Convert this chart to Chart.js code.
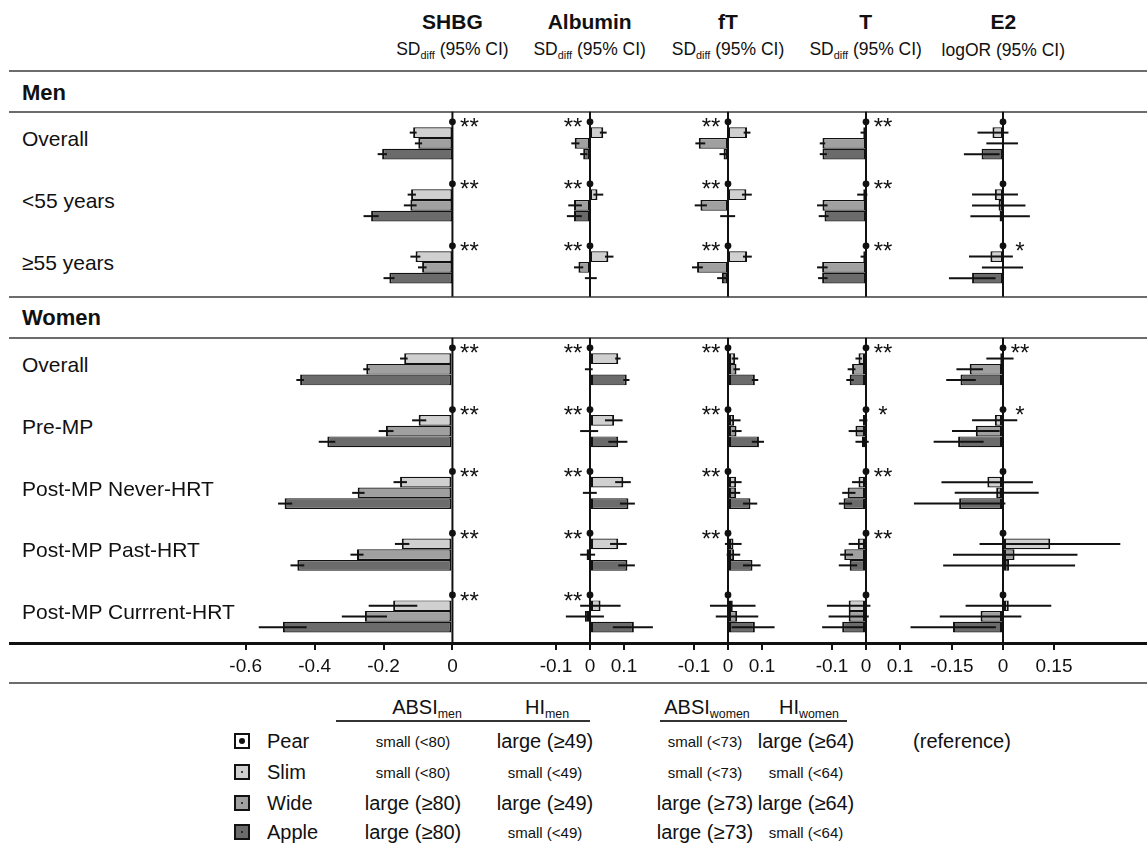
<!DOCTYPE html>
<html>
<head>
<meta charset="utf-8">
<script src="https://cdn.jsdelivr.net/npm/chart.js@4.4.1/dist/chart.umd.min.js"></script>
<style>
  body{margin:0;background:#fff;font-family:"Liberation Sans",Arial,sans-serif;color:#111;}
  #page{position:relative;width:1147px;height:843px;overflow:hidden;background:#fff;}
  .t{position:absolute;white-space:nowrap;line-height:1;}
  .hl{position:absolute;left:9px;right:0;height:2px;background:#6c6c6c;}
  canvas{position:absolute;}
  .sub{font-size:0.62em;vertical-align:-0.32em;}
  .sq{position:absolute;width:12px;height:12px;border:2px solid #111;}
  .sq i{position:absolute;left:4px;top:4px;width:4px;height:4px;border-radius:50%;background:#111;}
</style>
</head>
<body>
<div id="page"></div>
<script>
/* forest plot: waist/hip body shapes vs hormones */
const menGroups   = ['Overall', '<55 years', '≥55 years'];
const womenGroups = ['Overall', 'Pre-MP', 'Post-MP Never-HRT', 'Post-MP Past-HRT', 'Post-MP Currrent-HRT'];
const shapes = ['Pear', 'Slim', 'Wide', 'Apple'];

// rows: men Overall, <55, >=55, women Overall, Pre-MP, Never, Past, Current
// each row = [estimate, lower CI, upper CI]; Pear is the reference (0)
const shbgSlim  = [[-0.114,-0.124,-0.104],[-0.120,-0.130,-0.106],[-0.107,-0.122,-0.093],[-0.140,-0.152,-0.130],[-0.098,-0.117,-0.076],[-0.152,-0.171,-0.132],[-0.147,-0.167,-0.125],[-0.172,-0.243,-0.102]];
const shbgWide  = [[-0.099,-0.109,-0.088],[-0.122,-0.141,-0.104],[-0.088,-0.100,-0.075],[-0.250,-0.259,-0.240],[-0.193,-0.214,-0.171],[-0.275,-0.291,-0.255],[-0.277,-0.296,-0.258],[-0.254,-0.321,-0.190]];
const shbgApple = [[-0.204,-0.217,-0.190],[-0.236,-0.258,-0.214],[-0.183,-0.200,-0.168],[-0.442,-0.453,-0.431],[-0.363,-0.388,-0.340],[-0.487,-0.506,-0.465],[-0.450,-0.470,-0.430],[-0.492,-0.562,-0.423]];

const albSlim  = [[0.039,0.029,0.049],[0.022,0.010,0.039],[0.054,0.044,0.069],[0.083,0.074,0.090],[0.071,0.044,0.096],[0.098,0.074,0.120],[0.083,0.059,0.108],[0.031,-0.029,0.090]];
const albWide  = [[-0.045,-0.055,-0.031],[-0.047,-0.064,-0.024],[-0.034,-0.047,-0.020],[-0.003,-0.015,0.008],[-0.002,-0.029,0.024],[-0.003,-0.021,0.020],[-0.010,-0.029,0.015],[-0.015,-0.071,0.041]];
const albApple = [[-0.020,-0.029,-0.008],[-0.047,-0.068,-0.024],[-0.002,-0.015,0.020],[0.108,0.098,0.116],[0.083,0.054,0.110],[0.113,0.088,0.132],[0.110,0.083,0.132],[0.129,0.067,0.185]];

const ftSlim  = [[0.056,0.046,0.066],[0.054,0.041,0.070],[0.056,0.044,0.070],[0.021,0.011,0.030],[0.018,0.006,0.037],[0.024,0.006,0.040],[0.016,-0.009,0.040],[0.014,-0.053,0.081]];
const ftWide  = [[-0.086,-0.096,-0.067],[-0.081,-0.098,-0.062],[-0.091,-0.106,-0.074],[0.025,0.016,0.035],[0.025,0.011,0.040],[0.024,0.006,0.036],[0.018,-0.004,0.036],[0.027,-0.036,0.089]];
const ftApple = [[-0.013,-0.025,-0.001],[-0.001,-0.023,0.021],[-0.018,-0.032,-0.003],[0.079,0.070,0.089],[0.091,0.070,0.106],[0.066,0.044,0.086],[0.072,0.044,0.096],[0.079,0.011,0.137]];

const tSlim  = [[-0.008,-0.016,0.000],[-0.008,-0.026,0.004],[-0.008,-0.016,0.000],[-0.022,-0.031,-0.012],[-0.009,-0.020,0.004],[-0.022,-0.041,-0.002],[-0.024,-0.051,-0.002],[-0.051,-0.115,0.013]];
const tWide  = [[-0.128,-0.136,-0.120],[-0.128,-0.144,-0.113],[-0.129,-0.144,-0.113],[-0.041,-0.054,-0.031],[-0.031,-0.051,-0.007],[-0.054,-0.070,-0.031],[-0.064,-0.076,-0.038],[-0.051,-0.110,0.008]];
const tApple = [[-0.128,-0.136,-0.115],[-0.122,-0.139,-0.110],[-0.129,-0.141,-0.113],[-0.048,-0.058,-0.036],[-0.012,-0.031,0.008],[-0.066,-0.080,-0.041],[-0.048,-0.080,-0.026],[-0.070,-0.129,-0.005]];

const e2Slim  = [[-0.031,-0.075,0.016],[-0.024,-0.091,0.044],[-0.037,-0.100,0.029],[-0.008,-0.049,0.031],[-0.024,-0.091,0.042],[-0.046,-0.181,0.088],[0.139,-0.069,0.345],[0.017,-0.110,0.142]];
const e2Wide  = [[-0.003,-0.049,0.044],[-0.013,-0.091,0.066],[-0.002,-0.062,0.059],[-0.098,-0.137,-0.059],[-0.080,-0.150,-0.010],[-0.020,-0.142,0.105],[0.034,-0.147,0.219],[-0.066,-0.186,0.054]];
const e2Apple = [[-0.063,-0.115,-0.010],[-0.010,-0.096,0.079],[-0.091,-0.159,-0.022],[-0.125,-0.167,-0.080],[-0.132,-0.204,-0.057],[-0.129,-0.262,0.007],[0.018,-0.176,0.212],[-0.147,-0.272,-0.021]];

const shbgStars = ['**','**','**','**','**','**','**','**'];
const albStars  = ['**','**','**','**','**','**','**','**'];
const ftStars   = ['**','**','**','**','**','**','**',''];
const tStars    = ['**','**','**','**','*','**','**',''];
const e2Stars   = ['','','*','**','*','','',''];

const shbgTicks = [-0.6, -0.4, -0.2, 0];
const smallTicks = [-0.1, 0, 0.1];
const e2Ticks = [-0.15, 0, 0.15];

const colors = ['#ffffff', '#d0d0d0', '#a0a0a0', '#6b6b6b'];

const panels = [
  {title:'SHBG',    sub:'SD<span class="sub">diff</span> (95% CI)', left:194,   width:286, min:-0.75, max:0.08, ticks:shbgTicks,  rows:[shbgSlim,shbgWide,shbgApple], stars:shbgStars, side:1},
  {title:'Albumin', sub:'SD<span class="sub">diff</span> (95% CI)', left:521.7, width:136, min:-0.2,  max:0.2,  ticks:smallTicks, rows:[albSlim,albWide,albApple],    stars:albStars,  side:-1},
  {title:'fT',      sub:'SD<span class="sub">diff</span> (95% CI)', left:660,   width:136, min:-0.2,  max:0.2,  ticks:smallTicks, rows:[ftSlim,ftWide,ftApple],       stars:ftStars,   side:-1},
  {title:'T',       sub:'SD<span class="sub">diff</span> (95% CI)', left:797.7, width:136, min:-0.2,  max:0.2,  ticks:smallTicks, rows:[tSlim,tWide,tApple],          stars:tStars,    side:1},
  {title:'E2',      sub:'logOR (95% CI)',                           left:901.3, width:238, min:-0.3,  max:0.4,  ticks:e2Ticks,    rows:[e2Slim,e2Wide,e2Apple],       stars:e2Stars,   side:1}
];

const page = document.getElementById('page');
Chart.defaults.font.family = '"Liberation Sans", Arial, sans-serif';

function txt(html, x, y, css, center){
  const d = document.createElement('div');
  d.className = 't';
  d.innerHTML = html;
  d.style.cssText = css || '';
  d.style.left = x + 'px';
  d.style.top = y + 'px';
  d.style.transform = center ? 'translate(-50%,-50%)' : 'translate(0,-50%)';
  page.appendChild(d);
  return d;
}
function hline(y, h, col){
  const d = document.createElement('div');
  d.className = 'hl';
  d.style.top = y + 'px';
  if(h) d.style.height = h + 'px';
  if(col) d.style.background = col;
  page.appendChild(d);
}

// zero line, CI whiskers, reference dots and significance stars
const forest = {
  id: 'forest',
  beforeDatasetsDraw(chart, args, o){
    const {ctx, chartArea} = chart;
    const x = chart.scales.x.getPixelForValue(0);
    ctx.save();
    ctx.strokeStyle = '#111'; ctx.lineWidth = 2;
    ctx.beginPath();
    ctx.moveTo(x, o.zeroTop);
    ctx.lineTo(x, o.zeroBottom != null ? o.zeroBottom : chartArea.bottom);
    ctx.stroke();
    ctx.restore();
  },
  afterDatasetsDraw(chart, args, o){
    const ctx = chart.ctx, xs = chart.scales.x;
    ctx.save();
    ctx.strokeStyle = '#111'; ctx.lineWidth = 2;
    o.ci.forEach((rows, k)=>{
      const meta = chart.getDatasetMeta(k + 1);
      rows.forEach((r, i)=>{
        const y = meta.data[i].y;
        ctx.beginPath();
        ctx.moveTo(xs.getPixelForValue(r[1]), y);
        ctx.lineTo(xs.getPixelForValue(r[2]), y);
        ctx.stroke();
      });
    });
    const pear = chart.getDatasetMeta(0);
    ctx.fillStyle = '#111';
    ctx.font = '24px "Liberation Sans", Arial, sans-serif';
    ctx.textAlign = 'center';
    pear.data.forEach((b, i)=>{
      ctx.beginPath(); ctx.arc(b.x, b.y, 3.4, 0, Math.PI*2); ctx.fill();
      const s = o.stars[i];
      if(s) ctx.fillText(s, b.x + o.side*17, b.y + 13.5);
    });
    ctx.restore();
  }
};

function makeChart(p, groups, from, top, height, withAxis){
  const cv = document.createElement('canvas');
  cv.width = Math.round(p.width); cv.height = height;
  cv.style.left = p.left + 'px'; cv.style.top = top + 'px';
  cv.style.width = Math.round(p.width) + 'px'; cv.style.height = height + 'px';
  page.appendChild(cv);
  const to = from + groups.length;
  const rows = p.rows.map(a => a.slice(from, to));
  const datasets = shapes.map((name, k)=>({
    label: name,
    data: k === 0 ? groups.map(()=>0) : rows[k-1].map(r => r[0]),
    backgroundColor: colors[k],
    borderColor: '#111',
    borderWidth: k === 0 ? 0 : {top:1.2, bottom:1.2, left:2, right:2},
    borderSkipped: false,
    categoryPercentage: 0.694,
    barPercentage: 1
  }));
  const x = {
    type:'linear', min:p.min, max:p.max, display: withAxis,
    afterBuildTicks: s => { s.ticks = p.ticks.map(v => ({value:v})); },
    grid:{display:true, drawOnChartArea:false, drawTicks:true, tickLength:8, color:'#111', lineWidth:2},
    border:{display:false},
    ticks:{color:'#111', font:{size:19}, padding:5, maxRotation:0, autoSkip:false, callback: v => String(v)}
  };
  if(withAxis) x.afterFit = s => { s.height = 40; };
  return new Chart(cv, {
    type:'bar',
    data:{labels: groups, datasets},
    options:{
      indexAxis:'y', responsive:false, animation:false, devicePixelRatio:1,
      layout:{padding:{top:0, left:0, right:0, bottom: withAxis ? 0 : 5}},
      plugins:{
        legend:{display:false}, tooltip:{enabled:false},
        forest:{ci: rows, stars: p.stars.slice(from, to), side: p.side,
                zeroTop: 4.7, zeroBottom: withAxis ? null : height - 1.3}
      },
      scales:{ x, y:{display:false} }
    },
    plugins:[forest]
  });
}

// section lines
hline(70); hline(111); hline(296); hline(337);
hline(642, 3, '#111');
hline(682);

// panels
panels.forEach(p=>{
  const zx = p.left + (0 - p.min) / (p.max - p.min) * Math.round(p.width);
  txt(p.title, zx, 21, 'font-weight:bold;font-size:21px;', true);
  txt(p.sub, zx, 51, 'font-size:17.5px;', true);
  makeChart(p, menGroups, 0, 107, 191, false);
  makeChart(p, womenGroups, 3, 333, 349, true);
});

// row labels
txt('Men', 22, 93, 'font-weight:bold;font-size:22px;');
txt('Women', 22, 318, 'font-weight:bold;font-size:22px;');
menGroups.forEach((g, i)=> txt(g, 22, 107 + (i + 0.5) * 62, 'font-size:21px;'));
womenGroups.forEach((g, i)=> txt(g, 22, 333 + (i + 0.5) * 61.8, 'font-size:21px;'));

// legend
const legAbsiMen  = ['small (<80)', 'small (<80)', 'large (≥80)', 'large (≥80)'];
const legHiMen    = ['large (≥49)', 'small (<49)', 'large (≥49)', 'small (<49)'];
const legAbsiWom  = ['small (<73)', 'small (<73)', 'large (≥73)', 'large (≥73)'];
const legHiWom    = ['large (≥64)', 'small (<64)', 'large (≥64)', 'small (<64)'];
const legY = [741, 772, 803, 832];
const sz = s => s.startsWith('small') ? 'font-size:15px;' : 'font-size:20px;';

txt('ABSI<span class="sub">men</span>', 427, 709, 'font-size:20px;', true);
txt('HI<span class="sub">men</span>', 547, 709, 'font-size:20px;', true);
txt('ABSI<span class="sub">women</span>', 707, 709, 'font-size:20px;', true);
txt('HI<span class="sub">women</span>', 809, 709, 'font-size:20px;', true);
[[336, 254], [660, 187]].forEach(([l, w])=>{
  const d = document.createElement('div');
  d.style.cssText = `position:absolute;left:${l}px;top:720px;width:${w}px;height:2px;background:#333;`;
  page.appendChild(d);
});

shapes.forEach((name, k)=>{
  const y = legY[k];
  const sq = document.createElement('div');
  sq.className = 'sq';
  sq.style.left = '234px'; sq.style.top = (y - 8) + 'px';
  sq.style.background = colors[k];
  sq.innerHTML = k === 0 ? '<i style="left:3px;top:3px;width:6px;height:6px"></i>' : '<i style="left:5px;top:5px;width:2px;height:2px"></i>';
  page.appendChild(sq);
  txt(name, 267, y, 'font-size:20px;');
  txt(legAbsiMen[k], 413, y, sz(legAbsiMen[k]), true);
  txt(legHiMen[k], 545, y, sz(legHiMen[k]), true);
  txt(legAbsiWom[k], 705, y, sz(legAbsiWom[k]), true);
  txt(legHiWom[k], 806, y, sz(legHiWom[k]), true);
});
txt('(reference)', 962, 741, 'font-size:20px;', true);
</script>
</body>
</html>
